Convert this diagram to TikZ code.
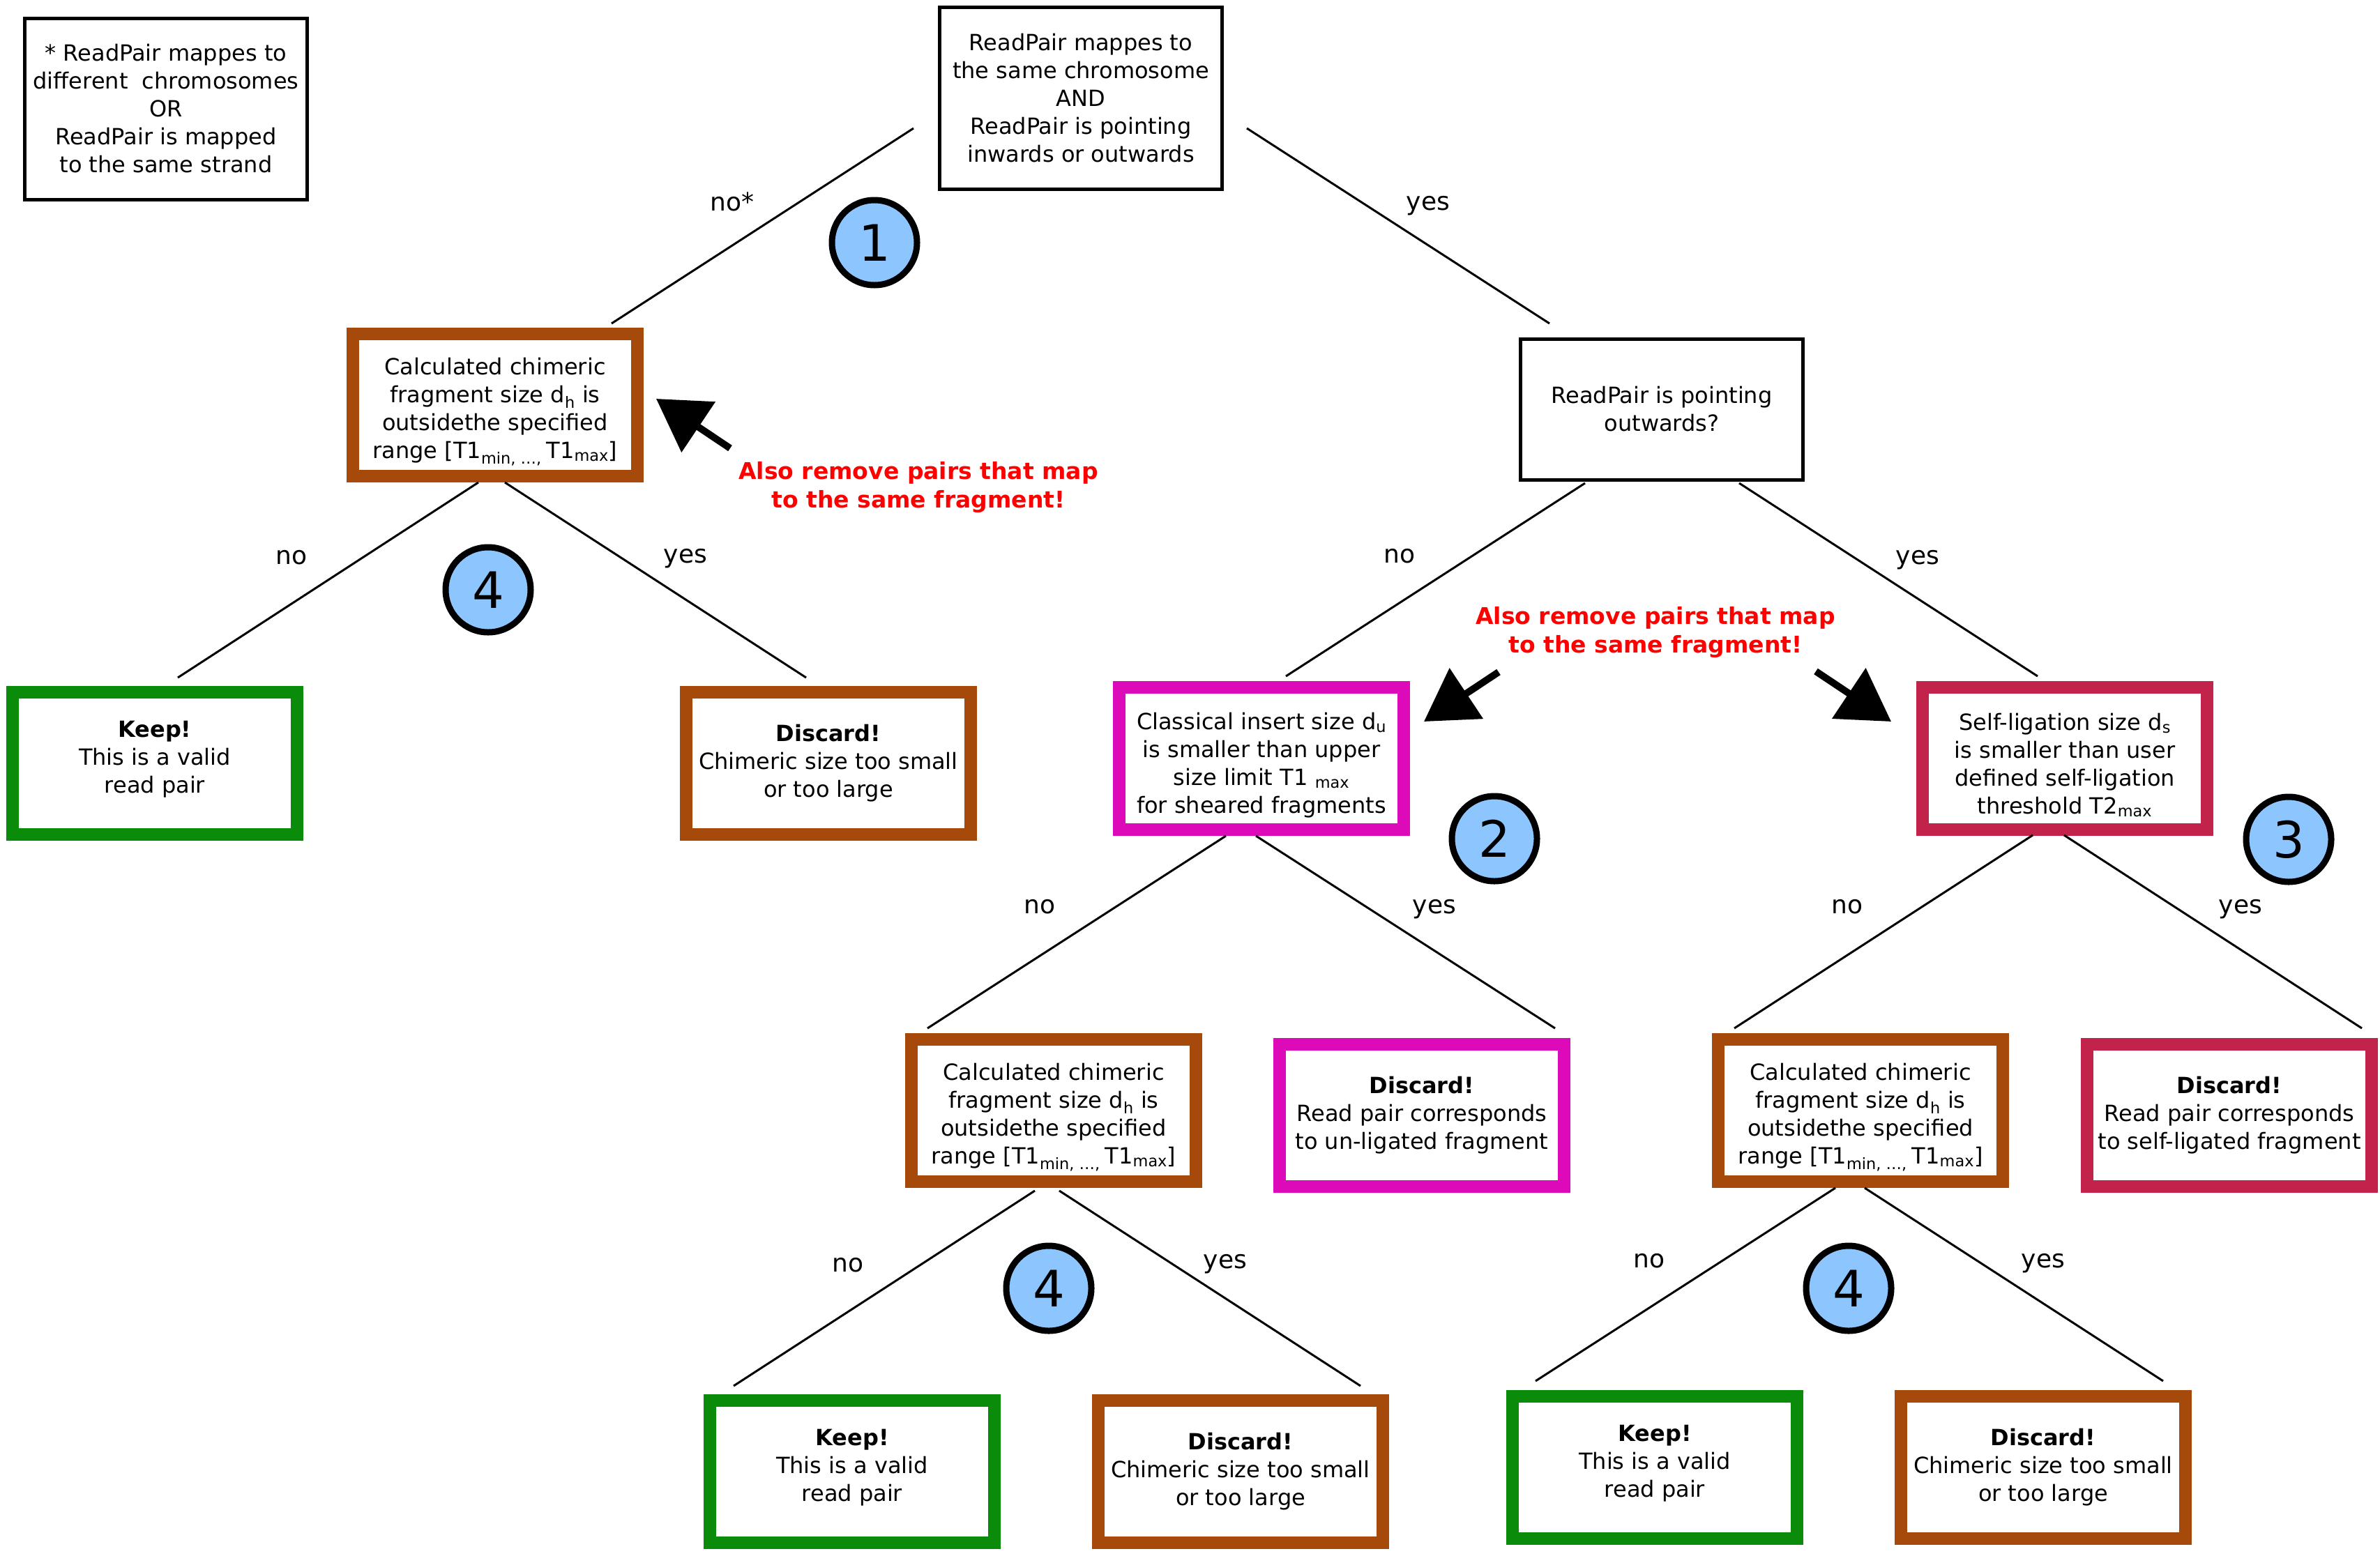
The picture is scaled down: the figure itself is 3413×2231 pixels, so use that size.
\documentclass[tikz,border=0pt]{standalone}
\usepackage{fontspec}
\setmainfont{DejaVu Sans}
\usetikzlibrary{arrows.meta}
\definecolor{brownbox}{RGB}{165,74,10}
\definecolor{greenbox}{RGB}{10,140,10}
\definecolor{magbox}{RGB}{220,10,185}
\definecolor{crimbox}{RGB}{193,35,75}
\definecolor{numblue}{RGB}{141,198,255}
\newcommand{\topstrut}{\rule{0pt}{44pt}}
\newcommand{\botstrut}{\rule[-18pt]{0pt}{0pt}}
\begin{document}
\begin{tikzpicture}[x=1pt,y=-1pt,
  font=\fontsize{32}{40}\selectfont,
  every node/.style={inner sep=0pt, outer sep=0pt},
  thinbox/.style={draw=black, line width=5pt, fill=white, align=center, minimum width=405pt},
  thickbox/.style={draw=#1, line width=18pt, fill=white, align=center, minimum width=408pt, minimum height=204pt},
  num/.style={circle, draw=black, line width=9pt, fill=numblue, minimum size=122pt, font=\fontsize{72}{72}\selectfont},
  lbl/.style={anchor=base, font=\fontsize{36}{44}\selectfont},
  conn/.style={line width=3pt},
  bigarrow/.style={line width=10pt, -{Triangle[length=73pt,width=85pt]}},
  note/.style={text=red, font=\fontsize{33}{41}\selectfont\bfseries, align=center}
]
\useasboundingbox[fill=white] (0,0) rectangle (3413,2231);

% boxes
\node[thinbox, minimum height=260pt] (fn) at (238,156) {* ReadPair mappes to\\different\ \ chromosomes\\OR\\ReadPair is mapped\\to the same strand};
\node[thinbox, minimum height=261pt] (top) at (1550,141) {ReadPair mappes to\\the same chromosome\\AND\\ReadPair is pointing\\inwards or outwards};
\node[thinbox, minimum height=202pt] (r1) at (2383,587) {ReadPair is pointing\\outwards?};

\node[thickbox=brownbox] (l1) at (710,581) {\topstrut Calculated chimeric\\fragment size d\textsubscript{h} is\\outsidethe specified\\range [T1\textsubscript{min, …, }T1\textsubscript{max}]};
\node[thickbox=greenbox] (k1) at (222,1095) {\textbf{Keep!}\\This is a valid\\read pair\botstrut};
\node[thickbox=brownbox] (d1) at (1188,1095) {\textbf{Discard!}\\Chimeric size too small\\or too large};

\node[thickbox=magbox] (m1) at (1809,1088) {\topstrut Classical insert size d\textsubscript{u}\\is smaller than upper\\size limit T1 \textsubscript{max}\\for sheared fragments};
\node[thickbox=crimbox] (s1) at (2961,1088) {\topstrut Self-ligation size d\textsubscript{s}\\is smaller than user\\defined self-ligation\\threshold T2\textsubscript{max}};

\node[thickbox=brownbox] (l2) at (1511,1593) {\topstrut Calculated chimeric\\fragment size d\textsubscript{h} is\\outsidethe specified\\range [T1\textsubscript{min, …, }T1\textsubscript{max}]};
\node[thickbox=magbox] (m2) at (2039,1600) {\textbf{Discard!}\\Read pair corresponds\\to un-ligated fragment};
\node[thickbox=brownbox] (l3) at (2668,1593) {\topstrut Calculated chimeric\\fragment size d\textsubscript{h} is\\outsidethe specified\\range [T1\textsubscript{min, …, }T1\textsubscript{max}]};
\node[thickbox=crimbox] (s2) at (3197,1600) {\textbf{Discard!}\\Read pair corresponds\\to self-ligated fragment};

\node[thickbox=greenbox] (k2) at (1222,2111) {\textbf{Keep!}\\This is a valid\\read pair\botstrut};
\node[thickbox=brownbox] (d2) at (1779,2111) {\textbf{Discard!}\\Chimeric size too small\\or too large};
\node[thickbox=greenbox] (k3) at (2373,2105) {\textbf{Keep!}\\This is a valid\\read pair\botstrut};
\node[thickbox=brownbox] (d3) at (2930,2105) {\textbf{Discard!}\\Chimeric size too small\\or too large};

% numbered circles
\node[num] (c1) at (1254,348) {1};
\node[num] (c4a) at (700,846) {4};
\node[num] (c2) at (2143,1203) {2};
\node[num] (c3) at (3282,1204) {3};
\node[num] (c4b) at (1504,1848) {4};
\node[num] (c4c) at (2651,1848) {4};

% connector end points
\coordinate (top-a) at (1310,184);  \coordinate (l1-a) at (877,464);
\coordinate (top-b) at (1788,184);  \coordinate (r1-a) at (2222,464);
\coordinate (l1-b) at (686,692);    \coordinate (k1-a) at (255,972);
\coordinate (l1-c) at (724,692);    \coordinate (d1-a) at (1156,972);
\coordinate (r1-b) at (2273,693);   \coordinate (m1-a) at (1844,970);
\coordinate (r1-c) at (2494,693);   \coordinate (s1-a) at (2922,970);
\coordinate (m1-b) at (1758,1199);  \coordinate (l2-a) at (1330,1475);
\coordinate (m1-c) at (1801,1199);  \coordinate (m2-a) at (2230,1475);
\coordinate (s1-b) at (2915,1198);  \coordinate (l3-a) at (2487,1475);
\coordinate (s1-c) at (2960,1198);  \coordinate (s2-a) at (3387,1475);
\coordinate (l2-b) at (1484,1708);  \coordinate (k2-a) at (1052,1988);
\coordinate (l2-c) at (1519,1708);  \coordinate (d2-a) at (1951,1988);
\coordinate (l3-b) at (2632,1704);  \coordinate (k3-a) at (2202,1981);
\coordinate (l3-c) at (2674,1704);  \coordinate (d3-a) at (3102,1981);

\draw[conn] (top-a) -- (l1-a);
\draw[conn] (top-b) -- (r1-a);
\draw[conn] (l1-b) -- (k1-a);
\draw[conn] (l1-c) -- (d1-a);
\draw[conn] (r1-b) -- (m1-a);
\draw[conn] (r1-c) -- (s1-a);
\draw[conn] (m1-b) -- (l2-a);
\draw[conn] (m1-c) -- (m2-a);
\draw[conn] (s1-b) -- (l3-a);
\draw[conn] (s1-c) -- (s2-a);
\draw[conn] (l2-b) -- (k2-a);
\draw[conn] (l2-c) -- (d2-a);
\draw[conn] (l3-b) -- (k3-a);
\draw[conn] (l3-c) -- (d3-a);

% labels
\node[lbl] (t-no0) at (1050,302) {no*};
\node[lbl] (t-yes0) at (2048,301) {yes};
\node[lbl] (t-no1) at (418,809) {no};
\node[lbl] (t-yes1) at (983,807) {yes};
\node[lbl] (t-no2) at (2007,807) {no};
\node[lbl] (t-yes2) at (2750,809) {yes};
\node[lbl] (t-no3) at (1491,1310) {no};
\node[lbl] (t-yes3) at (2057,1310) {yes};
\node[lbl] (t-no4) at (2649,1310) {no};
\node[lbl] (t-yes4) at (3213,1310) {yes};
\node[lbl] (t-no5) at (1216,1824) {no};
\node[lbl] (t-yes5) at (1757,1819) {yes};
\node[lbl] (t-no6) at (2365,1818) {no};
\node[lbl] (t-yes6) at (2930,1818) {yes};

% red notes and arrows
\node[note] (n1) at (1317,699) {Also remove pairs that map\\to the same fragment!};
\node[note] (n2) at (2374,907) {Also remove pairs that map\\to the same fragment!};
\coordinate (a1t) at (1047,643); \coordinate (a1h) at (941,572);
\coordinate (a2t) at (2149,964); \coordinate (a2h) at (2042,1035);
\coordinate (a3t) at (2604,963); \coordinate (a3h) at (2712,1035);
\draw[bigarrow] (a1t) -- (a1h);
\draw[bigarrow] (a2t) -- (a2h);
\draw[bigarrow] (a3t) -- (a3h);
\end{tikzpicture}
\end{document}
